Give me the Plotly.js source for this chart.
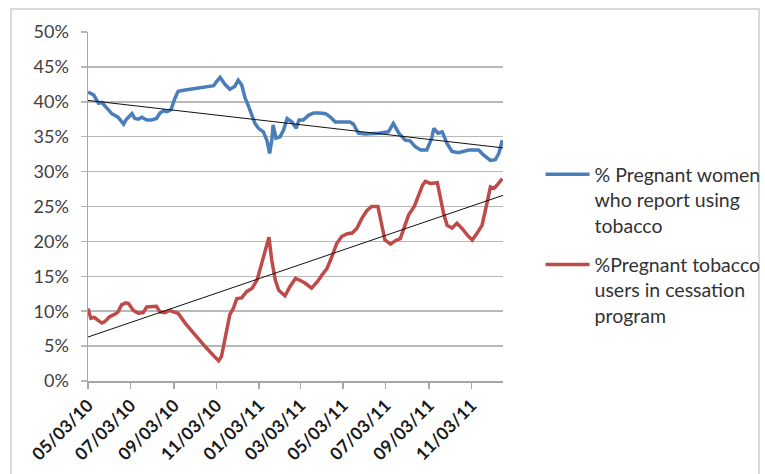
<!DOCTYPE html>
<html>
<head>
<meta charset="utf-8">
<script src="https://cdn.plot.ly/plotly-3.0.1.min.js"></script>
<style>
  html, body { margin: 0; padding: 0; background: #ffffff; }
  #frame { position: absolute; left: 10px; top: 8px; width: 750px; height: 480px; border: 2px solid #d9d9d9; box-sizing: border-box; }
  #chart { position: absolute; left: 0; top: 0; width: 765px; height: 474px; }
</style>
</head>
<body>
<div id="frame"></div>
<div id="chart"></div>
<script>
// ---- Data ----
const blueDates = ['2010-05-03','2010-05-11','2010-05-18','2010-05-23','2010-05-30','2010-06-06','2010-06-15','2010-06-23','2010-06-27',
  '2010-07-05','2010-07-09','2010-07-14','2010-07-19','2010-07-26','2010-08-02','2010-08-09','2010-08-14','2010-08-19','2010-08-24','2010-08-30',
  '2010-09-04','2010-09-09','2010-09-19','2010-10-03','2010-10-18','2010-10-30','2010-11-03','2010-11-08','2010-11-15','2010-11-22','2010-11-29',
  '2010-12-04','2010-12-09','2010-12-14','2010-12-19','2010-12-24','2010-12-28','2011-01-02','2011-01-09','2011-01-14','2011-01-18','2011-01-21',
  '2011-01-23','2011-01-27','2011-02-02','2011-02-07','2011-02-12','2011-02-19','2011-02-25','2011-03-01','2011-03-07','2011-03-15','2011-03-22',
  '2011-03-31','2011-04-08','2011-04-15','2011-04-22','2011-05-01','2011-05-13','2011-05-18','2011-05-25','2011-06-04','2011-06-11','2011-06-23',
  '2011-07-07','2011-07-14','2011-07-22','2011-07-31','2011-08-07','2011-08-14','2011-08-22','2011-08-31','2011-09-07','2011-09-10','2011-09-16',
  '2011-09-22','2011-09-29','2011-10-06','2011-10-15','2011-10-30','2011-11-13','2011-11-20','2011-11-30','2011-12-07','2011-12-12','2011-12-17'];
const blueValues = [41.4,41.0,39.8,39.9,39.1,38.3,37.8,36.8,37.5,
  38.3,37.6,37.5,37.8,37.4,37.4,37.6,38.4,38.7,38.6,38.9,
  40.4,41.5,41.7,41.9,42.1,42.3,42.9,43.5,42.5,41.8,42.2,
  43.1,42.4,40.5,39.3,38.1,36.9,36.2,35.7,34.5,32.6,34.5,
  36.7,34.8,35.0,36.0,37.6,37.1,36.2,37.4,37.4,38.1,38.4,
  38.4,38.3,37.8,37.1,37.1,37.1,36.8,35.5,35.4,35.4,35.5,
  35.7,36.9,35.5,34.5,34.4,33.6,33.1,33.1,34.8,36.2,35.5,
  35.7,34.0,32.9,32.7,33.1,33.1,32.4,31.6,31.7,32.6,34.5];

const redDates = ['2010-05-03','2010-05-07','2010-05-12','2010-05-17','2010-05-23','2010-05-27','2010-06-03','2010-06-11','2010-06-15',
  '2010-06-20','2010-06-26','2010-06-30','2010-07-07','2010-07-14','2010-07-21','2010-07-26','2010-08-02','2010-08-09','2010-08-14',
  '2010-08-21','2010-08-28','2010-09-02','2010-09-09','2010-09-19','2010-10-03','2010-10-18','2010-10-30','2010-11-06','2010-11-10',
  '2010-11-15','2010-11-22','2010-11-27','2010-12-02','2010-12-09','2010-12-16','2010-12-24','2010-12-31','2011-01-04','2011-01-09',
  '2011-01-14','2011-01-17','2011-01-21','2011-01-26','2011-01-31','2011-02-04','2011-02-09','2011-02-16','2011-02-24','2011-03-03',
  '2011-03-10','2011-03-19','2011-03-27','2011-04-03','2011-04-10','2011-04-17','2011-04-24','2011-05-01','2011-05-09','2011-05-16',
  '2011-05-23','2011-05-30','2011-06-06','2011-06-13','2011-06-22','2011-06-28','2011-07-02','2011-07-10','2011-07-17','2011-07-24',
  '2011-07-30','2011-08-05','2011-08-13','2011-08-19','2011-08-25','2011-08-29','2011-09-05','2011-09-15','2011-09-19','2011-09-24',
  '2011-09-29','2011-10-06','2011-10-13','2011-10-20','2011-10-28','2011-11-04','2011-11-11','2011-11-18','2011-11-24','2011-11-30',
  '2011-12-05','2011-12-10','2011-12-17'];
const redValues = [10.4,9.0,9.1,8.8,8.3,8.5,9.2,9.6,9.9,
  10.9,11.2,11.1,10.1,9.7,9.8,10.6,10.6,10.7,9.9,
  9.8,10.1,9.9,9.7,8.3,6.6,4.9,3.6,2.9,3.5,
  6.1,9.5,10.4,11.8,11.9,12.8,13.3,14.5,15.9,17.6,
  19.2,20.6,17.3,14.5,13.0,12.6,12.2,13.5,14.7,14.4,
  14.0,13.3,14.2,15.2,16.1,17.8,19.7,20.7,21.1,21.2,
  21.9,23.3,24.4,25.0,25.0,22.1,20.2,19.6,20.1,20.4,
  22.3,23.8,25.0,26.4,28.1,28.6,28.3,28.4,26.4,24.0,
  22.3,21.9,22.6,21.9,20.9,20.2,21.2,22.3,25.0,27.8,
  27.6,28.1,29.0];

// linear trendlines (endpoints)
const trendDates = ['2010-05-03','2011-12-18'];
const blueTrend = [40.2, 33.4];
const redTrend = [6.3, 26.6];

const xTickVals = ['2010-05-03','2010-07-03','2010-09-03','2010-11-03','2011-01-03','2011-03-03','2011-05-03','2011-07-03','2011-09-03','2011-11-03'];
const xTickText = ['05/03/10','07/03/10','09/03/10','11/03/10','01/03/11','03/03/11','05/03/11','07/03/11','09/03/11','11/03/11'];

const seriesNames = ['% Pregnant women<br>who report using<br>tobacco', '%Pregnant tobacco<br>users in cessation<br>program'];

const traces = [
  { x: blueDates, y: blueValues, type: 'scatter', mode: 'lines', name: seriesNames[0], legendgroup: 'a',
    line: { color: '#4a7ebb', width: 3.5 } },
  { x: redDates, y: redValues, type: 'scatter', mode: 'lines', name: seriesNames[1], legendgroup: 'b',
    line: { color: '#be4b48', width: 3.5 } },
  { x: trendDates, y: blueTrend, type: 'scatter', mode: 'lines', showlegend: false, hoverinfo: 'skip',
    line: { color: '#111111', width: 1 } },
  { x: trendDates, y: redTrend, type: 'scatter', mode: 'lines', showlegend: false, hoverinfo: 'skip',
    line: { color: '#111111', width: 1 } }
];

const layout = {
  width: 765, height: 474,
  margin: { l: 88, r: 262, t: 32, b: 93, autoexpand: false },
  paper_bgcolor: 'rgba(0,0,0,0)',
  plot_bgcolor: 'rgba(0,0,0,0)',
  font: { family: 'Lato, "Open Sans", sans-serif', color: '#404040' },
  xaxis: {
    type: 'date',
    range: ['2010-05-03', '2011-12-18'],
    tickvals: xTickVals, ticktext: xTickText,
    tickangle: -45,
    tickfont: { size: 17.5, color: '#1a1a1a', family: 'Lato, sans-serif', weight: 'bold' },
    showgrid: false, zeroline: false,
    showline: true, linecolor: '#a6a6a6', linewidth: 1.5,
    ticks: 'outside', ticklen: 6, tickcolor: '#a6a6a6', tickwidth: 1.5
  },
  yaxis: {
    range: [0, 50], dtick: 5, ticksuffix: '%',
    tickfont: { size: 18, color: '#404040' },
    ticklabelstandoff: 8,
    showgrid: true, gridcolor: '#b8b8b8', gridwidth: 1.5,
    zeroline: false,
    showline: true, linecolor: '#a6a6a6', linewidth: 1.5,
    ticks: 'outside', ticklen: 6, tickcolor: '#b8b8b8', tickwidth: 1.5
  },
  showlegend: true,
  legend: {
    x: 1.0905, xanchor: 'left', y: 0.647, yanchor: 'top',
    font: { size: 19.5, color: '#333333' },
    valign: 'top',
    itemwidth: 44,
    tracegroupgap: 11,
    bgcolor: 'rgba(0,0,0,0)'
  }
};

Plotly.newPlot('chart', traces, layout, { displayModeBar: false, staticPlot: true });
</script>
</body>
</html>
